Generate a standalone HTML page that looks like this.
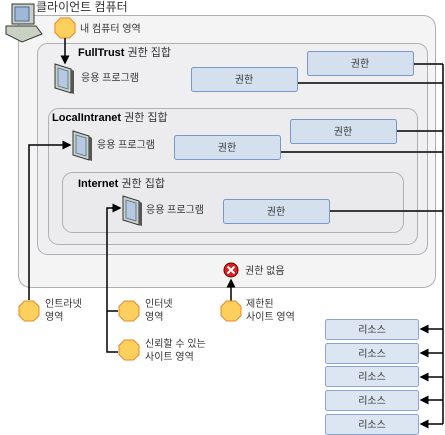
<!DOCTYPE html>
<html><head><meta charset="utf-8"><style>
body{margin:0;background:#fff}
svg{display:block}
text{font-family:"Liberation Sans","Noto Sans CJK KR",sans-serif;font-size:10px;fill:#333}
.b{font-weight:bold;fill:#000}
</style></head><body>
<svg width="445" height="435" viewBox="0 0 445 435" xmlns="http://www.w3.org/2000/svg">
<defs>
<marker id="a" markerWidth="6" markerHeight="6" refX="5" refY="3" orient="auto"><path d="M0,0 L6,3 L0,6z" fill="#000"/></marker>
<g id="oct"><polygon points="-4.5,-10 4.5,-10 10,-4.5 10,4.5 4.5,10 -4.5,10 -10,4.5 -10,-4.5" fill="#fdcf5c" stroke="#e8892a" stroke-width="1"/></g>
<g id="app"><polygon points="0,0 16,5 16,29 0,24" fill="#c9d2c2" stroke="#333" stroke-width="1"/><polygon points="3,4 13,7 13,25 3,22" fill="#b8c8e0" stroke="#4a6a9a" stroke-width="0.8"/><polygon points="16,5 19,7 19,30 16,29" fill="#555"/></g>
<g id="rb"><rect x="0" y="0" width="106" height="24" rx="2" fill="#d4e0ee" stroke="#7b96c9" stroke-width="1"/></g>
</defs>
<rect x="18.5" y="15.5" width="417" height="272" rx="12" fill="#f4f4f4" stroke="#b0b0b0"/>
<rect x="37.5" y="43.5" width="390" height="211" rx="10" fill="#efeff1" stroke="#b0b0b0"/>
<rect x="48.5" y="108.5" width="369" height="136" rx="10" fill="#ececee" stroke="#b0b0b0"/>
<rect x="62.5" y="172.5" width="341" height="60" rx="10" fill="#eaeaec" stroke="#b0b0b0"/>
<!-- computer icon -->
<rect x="12" y="4" width="22" height="20" fill="#c9d2c2" stroke="#333"/><rect x="15" y="7" width="14" height="14" fill="#9fb8d8" stroke="#4a6a9a"/>
<polygon points="6,26 36,26 42,34 22,42 6,34" fill="#c9d2c2" stroke="#333"/>
<text x="36" y="11" style="font-size:12px">클라이언트 컴퓨터</text>
<use href="#oct" x="65" y="28"/><text x="80" y="32">내 컴퓨터 영역</text>
<line x1="65" y1="38" x2="65" y2="63" stroke="#000" stroke-width="1.5" marker-end="url(#a)"/>
<text x="78" y="56" class="b" style="font-size:11px">FullTrust <tspan style="font-weight:normal;fill:#333">권한 집합</tspan></text>
<use href="#app" x="55" y="64"/><text x="81" y="81">응용 프로그램</text>
<use href="#rb" x="307.5" y="51.5"/><text x="360" y="67" text-anchor="middle">권한</text>
<use href="#rb" x="191.5" y="67.5"/><text x="244" y="83" text-anchor="middle">권한</text>
<text x="52" y="121" class="b" style="font-size:11px">LocalIntranet <tspan style="font-weight:normal;fill:#333">권한 집합</tspan></text>
<use href="#app" x="73" y="131"/><text x="97" y="148">응용 프로그램</text>
<use href="#rb" x="290.5" y="119.5"/><text x="343" y="135" text-anchor="middle">권한</text>
<use href="#rb" x="174.5" y="135.5"/><text x="227" y="151" text-anchor="middle">권한</text>
<text x="78" y="187" class="b" style="font-size:11px">Internet <tspan style="font-weight:normal;fill:#333">권한 집합</tspan></text>
<use href="#app" x="123" y="196"/><text x="146" y="213">응용 프로그램</text>
<use href="#rb" x="223.5" y="199.5"/><text x="276" y="215" text-anchor="middle">권한</text>
<!-- right connectors -->
<g stroke="#000" stroke-width="1.5" fill="none">
<line x1="443" y1="64" x2="443" y2="424"/>
<line x1="414" y1="64" x2="443" y2="64"/>
<line x1="298" y1="83" x2="443" y2="83"/>
<line x1="397" y1="131" x2="443" y2="131"/>
<line x1="281" y1="152" x2="443" y2="152"/>
<line x1="330" y1="211" x2="443" y2="211"/>
<line x1="443" y1="329" x2="421" y2="329" marker-end="url(#a)"/>
<line x1="443" y1="353" x2="421" y2="353" marker-end="url(#a)"/>
<line x1="443" y1="377" x2="421" y2="377" marker-end="url(#a)"/>
<line x1="443" y1="400" x2="421" y2="400" marker-end="url(#a)"/>
<line x1="443" y1="424" x2="421" y2="424" marker-end="url(#a)"/>
<polyline points="29,300 29,145 70,145" marker-end="url(#a)"/>
<polyline points="118,311 107,311"/>
<polyline points="118,352 107,352 107,208 120,208" marker-end="url(#a)"/>
<line x1="231" y1="301" x2="231" y2="280" marker-end="url(#a)"/>
</g>
<g>
<rect x="325.5" y="319.5" width="93" height="20" rx="2" fill="#dce6f2" stroke="#8ca4d4"/><text x="372" y="333" text-anchor="middle">리소스</text>
<rect x="325.5" y="343.5" width="93" height="20" rx="2" fill="#dce6f2" stroke="#8ca4d4"/><text x="372" y="357" text-anchor="middle">리소스</text>
<rect x="325.5" y="366.5" width="93" height="20" rx="2" fill="#dce6f2" stroke="#8ca4d4"/><text x="372" y="380" text-anchor="middle">리소스</text>
<rect x="325.5" y="390.5" width="93" height="20" rx="2" fill="#dce6f2" stroke="#8ca4d4"/><text x="372" y="404" text-anchor="middle">리소스</text>
<rect x="325.5" y="414.5" width="93" height="20" rx="2" fill="#dce6f2" stroke="#8ca4d4"/><text x="372" y="428" text-anchor="middle">리소스</text>
</g>
<circle cx="231" cy="270" r="7" fill="#e02020" stroke="#600" stroke-width="1"/>
<path d="M227.5,266.5 L234.5,273.5 M234.5,266.5 L227.5,273.5" stroke="#fff" stroke-width="2"/>
<text x="245" y="274">권한 없음</text>
<use href="#oct" x="29" y="311"/><text x="45" y="307">인트라넷</text><text x="45" y="320">영역</text>
<use href="#oct" x="129" y="311"/><text x="145" y="307">인터넷</text><text x="145" y="320">영역</text>
<use href="#oct" x="129" y="350"/><text x="145" y="347">신뢰할 수 있는</text><text x="145" y="360">사이트 영역</text>
<use href="#oct" x="231" y="311"/><text x="246" y="307">제한된</text><text x="246" y="320">사이트 영역</text>
</svg>
</body></html>
